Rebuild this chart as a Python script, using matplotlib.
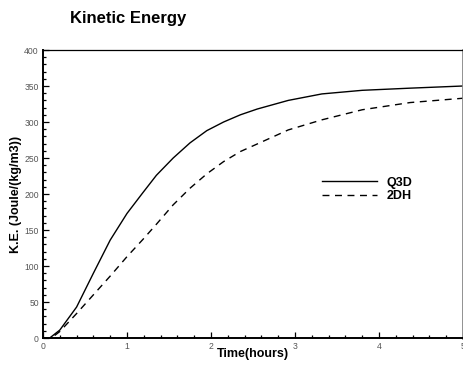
import numpy as np
import matplotlib
matplotlib.use("Agg")
import matplotlib.pyplot as plt
from matplotlib.ticker import MultipleLocator

plt.rcParams['font.family'] = ['Liberation Sans', 'DejaVu Sans']

# Q3D curve
t_q3d = [0.0, 0.08, 0.2, 0.4, 0.6, 0.8, 1.0, 1.19, 1.35, 1.55, 1.75, 1.95,
         2.15, 2.35, 2.55, 2.92, 3.32, 3.8, 4.37, 5.0]
ke_q3d = [0, 0, 11, 43, 90, 136, 173, 202, 226, 250, 271, 288,
          300, 310, 318, 330, 339, 344, 347, 350]

# 2DH curve
t_2dh = [0.0, 0.1, 0.2, 0.4, 0.6, 0.8, 1.0, 1.19, 1.35, 1.55, 1.75, 1.95,
         2.15, 2.35, 2.56, 2.92, 3.32, 3.8, 4.37, 5.0]
ke_2dh = [0, 0, 9, 34, 60, 86, 113, 137, 158, 185, 208, 228,
          245, 259, 270, 289, 303, 317, 327, 333]

xticks = [0, 1, 2, 3, 4, 5]
yticks = [0, 50, 100, 150, 200, 250, 300, 350, 400]

fig = plt.figure(figsize=(4.64, 3.67), dpi=100)
ax = fig.add_axes([43 / 464, 29 / 367, 420 / 464, 288 / 367])

ax.plot(t_q3d, ke_q3d, color='black', lw=1.0, label='Q3D')
ax.plot(t_2dh, ke_2dh, color='black', lw=1.0, linestyle=(0, (5, 4)), label='2DH')

ax.set_xlim(0, 5)
ax.set_ylim(0, 400)
ax.set_xticks(xticks)
ax.set_yticks(yticks)
ax.xaxis.set_minor_locator(MultipleLocator(0.2))
ax.yaxis.set_minor_locator(MultipleLocator(10))
ax.tick_params(which='both', direction='in', top=False, right=False,
               labelsize=6.2, labelcolor='#555555', width=0.9)
ax.tick_params(which='major', length=4, pad=3)
ax.tick_params(which='minor', length=2)

for side in ['left', 'bottom']:
    ax.spines[side].set_linewidth(1.4)
ax.spines['top'].set_linewidth(0.9)
ax.spines['right'].set_linewidth(2)
ax.spines['right'].set_color('#888888')

ax.set_xlabel('Time(hours)', fontsize=9, fontweight='bold', va='center')
ax.xaxis.set_label_coords(0.5, -(354 - 338) / 288)
ax.set_ylabel('K.E. (Joule/(kg/m3))', fontsize=9, fontweight='bold', va='center')
ax.yaxis.set_label_coords(-(43 - 16) / 420, 0.5)

fig.text(70 / 464, 1 - 18 / 367, 'Kinetic Energy', fontsize=12,
         fontweight='bold', ha='left', va='center')

ax.legend(loc='center left', bbox_to_anchor=(0.664, 0.516), frameon=False,
          prop={'size': 9, 'weight': 'bold'}, handlelength=4.4,
          handletextpad=0.8, borderpad=0, borderaxespad=0, labelspacing=0.1)

fig.savefig('out.png', dpi=100)
